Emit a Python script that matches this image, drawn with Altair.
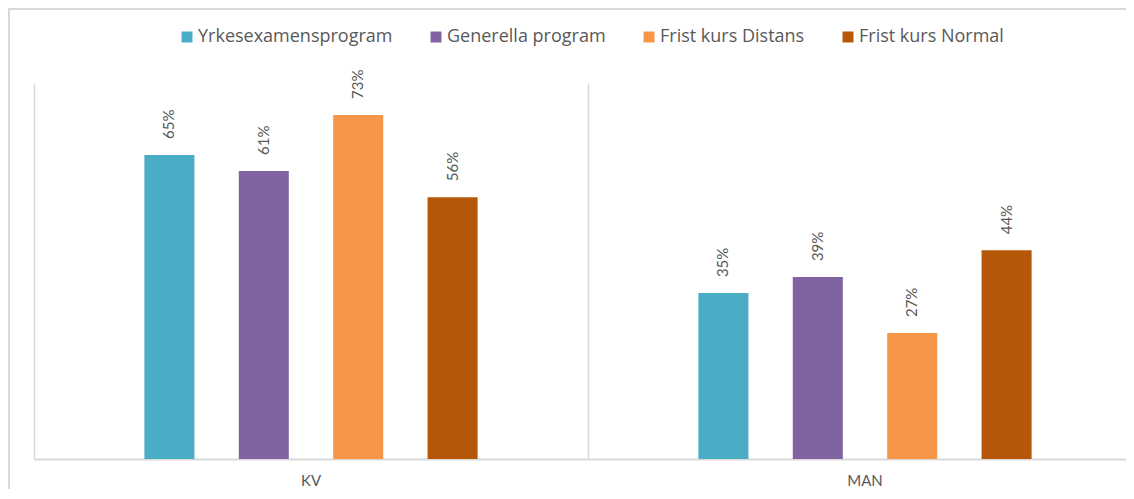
import altair as alt
import pandas as pd

categories = ["KV", "MAN"]
series = ["Yrkesexamensprogram", "Generella program", "Frist kurs Distans", "Frist kurs Normal"]
colors = ["#4BACC6", "#8064A2", "#F79646", "#B65708"]
kv_values = [0.647, 0.613, 0.732, 0.557]
man_values = [0.353, 0.387, 0.268, 0.444]

rows = []
for s, v in zip(series, kv_values):
    rows.append({"category": "KV", "series": s, "value": v})
for s, v in zip(series, man_values):
    rows.append({"category": "MAN", "series": s, "value": v})
df = pd.DataFrame(rows)

FONT = "Lato"
LEGEND_FONT = "Open Sans"
GRAY = "#595959"
LINE = "#d9d9d9"

x = alt.X(
    "category:N",
    sort=categories,
    scale=alt.Scale(domain=categories, paddingInner=0, paddingOuter=0),
    axis=alt.Axis(
        title=None, labelAngle=0, ticks=False, grid=True, bandPosition=0,
        gridColor=LINE, gridWidth=1.5, domainColor=LINE, domainWidth=2,
        labelColor=GRAY, labelFont=FONT, labelFontSize=15, labelPadding=14,
    ),
)
xoff = alt.XOffset("series:N", sort=series,
                   scale=alt.Scale(domain=series, range=[16, 538], paddingInner=0.47, paddingOuter=1))
y = alt.Y("value:Q", scale=alt.Scale(domain=[0, 0.8]), axis=None)
color = alt.Color(
    "series:N",
    sort=series,
    scale=alt.Scale(domain=series, range=colors),
    legend=alt.Legend(
        title=None, orient="none", legendX=144, legendY=-55, direction="horizontal",
        symbolType="square", symbolSize=120, symbolStrokeWidth=0,
        labelFont=LEGEND_FONT, labelFontSize=18, labelColor=GRAY, labelLimit=400,
        columnPadding=34, labelOffset=2,
    ),
)

base = alt.Chart(df)
bars = base.mark_bar().encode(x=x, xOffset=xoff, y=y, color=color)
labels = base.mark_text(
    angle=270, align="left", baseline="middle", dx=16,
    font=FONT, fontSize=15, color=GRAY,
).encode(x=x, xOffset=xoff, y=y, text=alt.Text("value:Q", format=".0%"))

frame_df = pd.DataFrame({"k": [0]})
top_border = alt.Chart(frame_df).mark_rule(color=LINE, strokeWidth=2).encode(
    x=alt.value(-25), x2=alt.value(1130), y=alt.value(-74)
)
left_border = alt.Chart(frame_df).mark_rule(color=LINE, strokeWidth=2).encode(
    x=alt.value(-25), y=alt.value(-75), y2=alt.value(430)
)

chart = (
    alt.layer(bars, labels, top_border, left_border)
    .properties(
        width=1108, height=376,
        autosize=alt.AutoSizeParams(type="none"),
        padding={"left": 26, "top": 75, "right": -16, "bottom": 30},
    )
    .configure_view(stroke=None)
)

chart.save("out.html", embed_options={"renderer": "svg", "actions": False})
